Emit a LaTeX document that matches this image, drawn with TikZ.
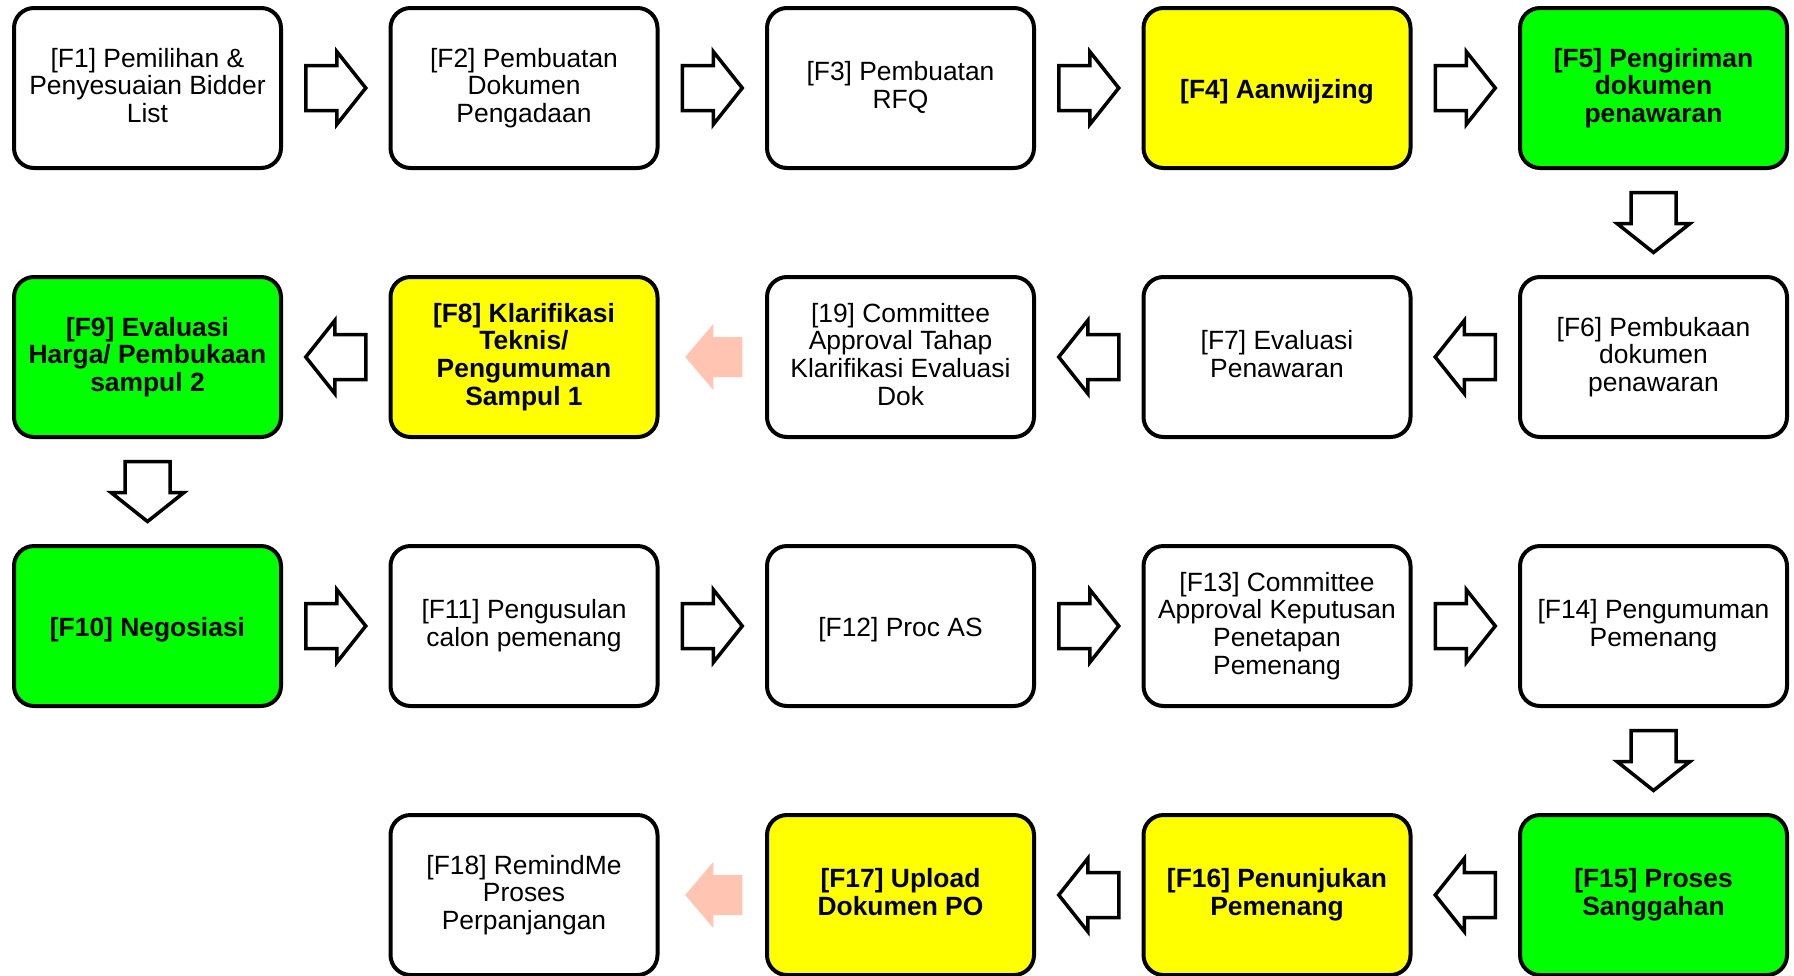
\documentclass[tikz,border=0pt]{standalone}
\usepackage{fontspec}
\setmainfont{Liberation Sans}
\usetikzlibrary{calc}
\definecolor{fyellow}{RGB}{255,255,0}
\definecolor{fgreen}{RGB}{0,255,0}
\definecolor{fpink}{RGB}{255,196,178}
\newcommand\toprule{\rule{0pt}{27.5pt}}
\newcommand\botrule{\rule[-5.6pt]{0pt}{5.6pt}}
\tikzset{
  stepbox/.style={draw=black, line width=4pt, rounded corners=20pt, minimum width=267pt, minimum height=160pt,
    align=center, font=\fontsize{26.4}{27.6}\selectfont, fill=white, inner sep=0pt,
    execute at begin node=\toprule, execute at end node=\botrule},
  ybox/.style={stepbox, fill=fyellow, font=\fontsize{26.4}{27.6}\selectfont\bfseries},
  gbox/.style={stepbox, fill=fgreen, font=\fontsize{26.4}{27.6}\selectfont\bfseries},
  barrow/.pic={\draw[line width=3.5pt, fill=white, miter limit=10]
     (-30,-22.5) -- (1,-22.5) -- (1,-36.5) -- (30,0) -- (1,36.5) -- (1,22.5) -- (-30,22.5) -- cycle;},
  parrow/.pic={\fill[fpink]
     (-30,-20) -- (-1,-20) -- (-1,-33) -- (27,0) -- (-1,33) -- (-1,20) -- (-30,20) -- cycle;},
}
\begin{document}
\begin{tikzpicture}[x=1pt,y=-1pt]
\useasboundingbox (0,0) rectangle (1794,975);
% row 1
\node[stepbox] (f1) at (147.5,88) {[F1] Pemilihan \&\\Penyesuaian Bidder\\List};
\node[stepbox] (f2) at (524,88) {[F2] Pembuatan\\Dokumen\\Pengadaan};
\node[stepbox] (f3) at (900.5,88) {[F3] Pembuatan\\RFQ};
\node[ybox] (f4) at (1277,88) {[F4] Aanwijzing};
\node[gbox] (f5) at (1653.5,88) {[F5] Pengiriman\\dokumen\\penawaran};
% row 2
\node[stepbox] (f6) at (1653.5,357) {[F6] Pembukaan\\dokumen\\penawaran};
\node[stepbox] (f7) at (1277,357) {[F7] Evaluasi\\Penawaran};
\node[stepbox] (f19) at (900.5,357) {[19] Committee\\Approval Tahap\\Klarifikasi Evaluasi\\Dok};
\node[ybox] (f8) at (524,357) {[F8] Klarifikasi\\Teknis/\\Pengumuman\\Sampul 1};
\node[gbox] (f9) at (147.5,357) {[F9] Evaluasi\\Harga/ Pembukaan\\sampul 2};
% row 3
\node[gbox] (f10) at (147.5,626) {[F10] Negosiasi};
\node[stepbox] (f11) at (524,626) {[F11] Pengusulan\\calon pemenang};
\node[stepbox] (f12) at (900.5,626) {[F12] Proc AS};
\node[stepbox] (f13) at (1277,626) {[F13] Committee\\Approval Keputusan\\Penetapan\\Pemenang};
\node[stepbox] (f14) at (1653.5,626) {[F14] Pengumuman\\Pemenang};
% row 4
\node[gbox] (f15) at (1653.5,895) {[F15] Proses\\Sanggahan};
\node[ybox] (f16) at (1277,895) {[F16] Penunjukan\\Pemenang};
\node[ybox] (f17) at (900.5,895) {[F17] Upload\\Dokumen PO};
\node[stepbox] (f18) at (524,895) {[F18] RemindMe\\Proses\\Perpanjangan};
% arrows row 1
\path ($(f1.east)!0.5!(f2.west)$) pic{barrow};
\path ($(f2.east)!0.5!(f3.west)$) pic{barrow};
\path ($(f3.east)!0.5!(f4.west)$) pic{barrow};
\path ($(f4.east)!0.5!(f5.west)$) pic{barrow};
\path ($(f5.south)!0.5!(f6.north)$) pic[rotate=-90]{barrow};
% arrows row 2
\path ($(f6.west)!0.5!(f7.east)$) pic[rotate=180]{barrow};
\path ($(f7.west)!0.5!(f19.east)$) pic[rotate=180]{barrow};
\path ($(f19.west)!0.5!(f8.east)$) pic[rotate=180]{parrow};
\path ($(f8.west)!0.5!(f9.east)$) pic[rotate=180]{barrow};
\path ($(f9.south)!0.5!(f10.north)$) pic[rotate=-90]{barrow};
% arrows row 3
\path ($(f10.east)!0.5!(f11.west)$) pic{barrow};
\path ($(f11.east)!0.5!(f12.west)$) pic{barrow};
\path ($(f12.east)!0.5!(f13.west)$) pic{barrow};
\path ($(f13.east)!0.5!(f14.west)$) pic{barrow};
\path ($(f14.south)!0.5!(f15.north)$) pic[rotate=-90]{barrow};
% arrows row 4
\path ($(f15.west)!0.5!(f16.east)$) pic[rotate=180]{barrow};
\path ($(f16.west)!0.5!(f17.east)$) pic[rotate=180]{barrow};
\path ($(f17.west)!0.5!(f18.east)$) pic[rotate=180]{parrow};
\end{tikzpicture}
\end{document}
